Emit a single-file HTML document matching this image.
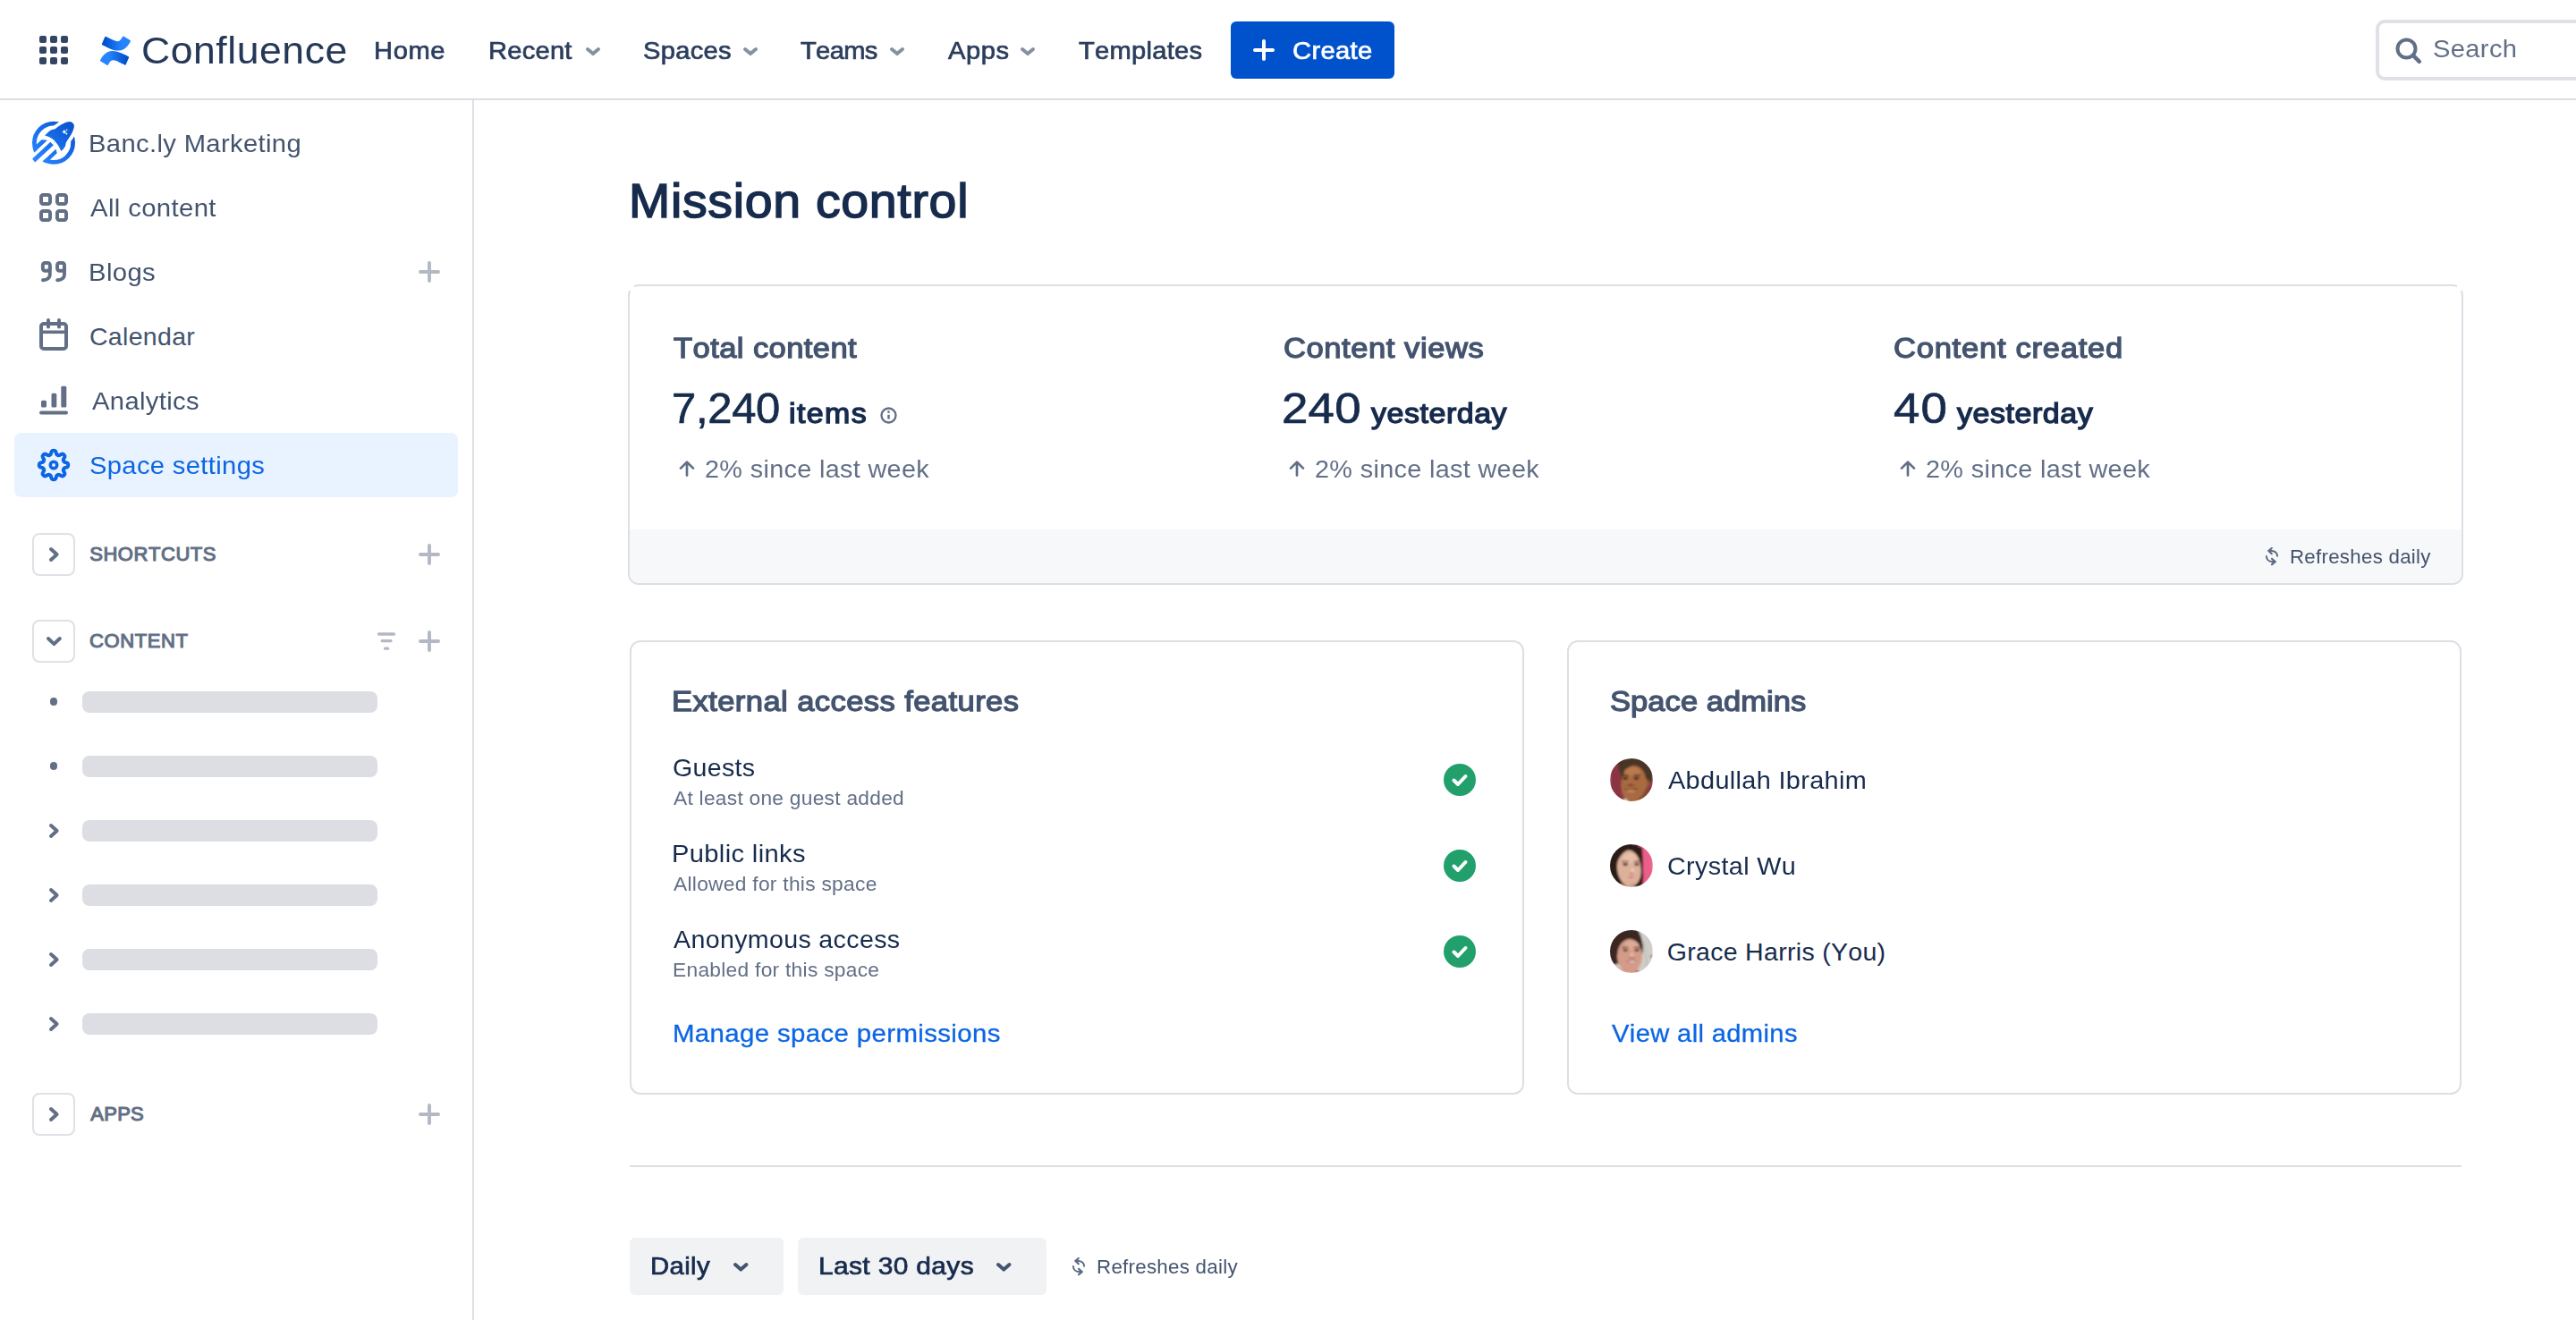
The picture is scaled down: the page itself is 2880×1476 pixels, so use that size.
<!DOCTYPE html>
<html lang="en"><head><meta charset="utf-8"><title>Mission control - Banc.ly Marketing - Confluence</title>
<style>
html,body{margin:0;padding:0;background:#fff;}
body{width:2880px;height:1476px;position:relative;overflow:hidden;font-family:"Liberation Sans", sans-serif;font-kerning:none;-webkit-font-smoothing:antialiased;}
.t{position:absolute;white-space:nowrap;margin:0;padding:0;font-weight:400;text-decoration:none;}
svg{display:block;overflow:visible}
button{font-family:inherit;border:0;padding:0;margin:0;}
</style></head><body>
<header>
<div style="position:absolute;left:0px;top:110px;width:2880px;height:2px;background:#DCDFE4;"></div>
<svg style="position:absolute;left:44px;top:40px;" width="32" height="32" viewBox="0 0 32 32"><g fill="#344563"><rect x="0" y="0" width="8" height="8" rx="2"/><rect x="12" y="0" width="8" height="8" rx="2"/><rect x="24" y="0" width="8" height="8" rx="2"/><rect x="0" y="12" width="8" height="8" rx="2"/><rect x="12" y="12" width="8" height="8" rx="2"/><rect x="24" y="12" width="8" height="8" rx="2"/><rect x="0" y="24" width="8" height="8" rx="2"/><rect x="12" y="24" width="8" height="8" rx="2"/><rect x="24" y="24" width="8" height="8" rx="2"/></g></svg>
<svg style="position:absolute;left:112px;top:39.5px;" width="34" height="33.5" viewBox="0 0 34 33"><defs><linearGradient id="cg1" x1="0" y1="0" x2="1" y2="0"><stop offset="0.1" stop-color="#0052CC"/><stop offset="0.7" stop-color="#2684FF"/></linearGradient><linearGradient id="cg2" x1="0" y1="0" x2="1" y2="0"><stop offset="0.3" stop-color="#2684FF"/><stop offset="0.9" stop-color="#0052CC"/></linearGradient></defs>
<path fill="url(#cg2)" d="M1.2 25.1c-.4.6-.7 1.2-1 1.7a1 1 0 0 0 .3 1.4l7 4.3a1 1 0 0 0 1.4-.3c.3-.5.6-1.1 1-1.7 2.8-4.6 5.6-4 10.6-1.6l6.9 3.3a1 1 0 0 0 1.4-.5l3.3-7.500a1 1 0 0 0-.5-1.300c-1.5-.7-4.4-2.1-7-3.300C15.1 14.9 6.9 15.2 1.2 25.100z"/>
<path fill="url(#cg1)" d="M32.8 7.9c.4-.6.7-1.2 1-1.7a1 1 0 0 0-.3-1.4l-7-4.3a1 1 0 0 0-1.4.3c-.3.5-.6 1.1-1 1.7-2.8 4.6-5.6 4-10.6 1.600L6.6.8a1 1 0 0 0-1.4.5L1.9 8.800a1 1 0 0 0 .5 1.300c1.5.7 4.4 2.1 7 3.3 9.5 4.7 17.7 4.4 23.4-5.500z"/></svg>
<span class="t " style="left:157.74px;top:29.80px;font-size:43px;line-height:52px;letter-spacing:0.516px;color:#253858;transform:scaleX(1.0363);transform-origin:0 0;">Confluence</span>
<span class="t " style="left:418.46px;top:40.05px;font-size:28px;line-height:34px;letter-spacing:0.579px;color:#2C3E5D;-webkit-text-stroke:0.7px #2C3E5D;transform:scaleX(1.0400);transform-origin:0 0;">Home</span>
<span class="t " style="left:545.96px;top:40.05px;font-size:28px;line-height:34px;letter-spacing:0.219px;color:#2C3E5D;-webkit-text-stroke:0.7px #2C3E5D;transform:scaleX(1.0400);transform-origin:0 0;">Recent</span>
<svg style="position:absolute;left:654.5px;top:52.5px;" width="16" height="9.5" viewBox="0 0 16 9.5"><path d="M2.0 2.0 L8.0 7.1 L14.0 2.0" fill="none" stroke="#8590A2" stroke-width="4" stroke-linecap="round" stroke-linejoin="round"/></svg>
<span class="t " style="left:718.63px;top:40.05px;font-size:28px;line-height:34px;letter-spacing:0.278px;color:#2C3E5D;-webkit-text-stroke:0.7px #2C3E5D;transform:scaleX(1.0400);transform-origin:0 0;">Spaces</span>
<svg style="position:absolute;left:830.5px;top:52.5px;" width="16" height="9.5" viewBox="0 0 16 9.5"><path d="M2.0 2.0 L8.0 7.1 L14.0 2.0" fill="none" stroke="#8590A2" stroke-width="4" stroke-linecap="round" stroke-linejoin="round"/></svg>
<span class="t " style="left:895.40px;top:40.05px;font-size:28px;line-height:34px;letter-spacing:-0.646px;color:#2C3E5D;-webkit-text-stroke:0.7px #2C3E5D;transform:scaleX(1.0400);transform-origin:0 0;">Teams</span>
<svg style="position:absolute;left:994.5px;top:52.5px;" width="16" height="9.5" viewBox="0 0 16 9.5"><path d="M2.0 2.0 L8.0 7.1 L14.0 2.0" fill="none" stroke="#8590A2" stroke-width="4" stroke-linecap="round" stroke-linejoin="round"/></svg>
<span class="t " style="left:1059.89px;top:40.05px;font-size:28px;line-height:34px;letter-spacing:0.524px;color:#2C3E5D;-webkit-text-stroke:0.7px #2C3E5D;transform:scaleX(1.0400);transform-origin:0 0;">Apps</span>
<svg style="position:absolute;left:1140.5px;top:52.5px;" width="16" height="9.5" viewBox="0 0 16 9.5"><path d="M2.0 2.0 L8.0 7.1 L14.0 2.0" fill="none" stroke="#8590A2" stroke-width="4" stroke-linecap="round" stroke-linejoin="round"/></svg>
<span class="t " style="left:1205.70px;top:40.05px;font-size:28px;line-height:34px;letter-spacing:0.248px;color:#2C3E5D;-webkit-text-stroke:0.7px #2C3E5D;transform:scaleX(1.0400);transform-origin:0 0;">Templates</span>
<button style="position:absolute;left:1376px;top:24px;width:183px;height:64px;background:#0052CC;border-radius:6px;"></button>
<svg style="position:absolute;left:1400.5px;top:44px;" width="24" height="24" viewBox="0 0 24 24"><path d="M12 2v20M2 12h20" stroke="#fff" stroke-width="4" stroke-linecap="round"/></svg>
<span class="t " style="left:1445.17px;top:40.05px;font-size:28px;line-height:34px;letter-spacing:0.340px;color:#fff;-webkit-text-stroke:0.7px #fff;transform:scaleX(1.0400);transform-origin:0 0;">Create</span>
<div style="position:absolute;left:2656px;top:22px;width:300px;height:68px;border:4px solid #DFE1E6;border-radius:10px;box-sizing:border-box;background:#fff;"></div>
<svg style="position:absolute;left:2677.5px;top:41.5px;" width="30" height="30" viewBox="0 0 30 30"><circle cx="12.5" cy="12.5" r="10" fill="none" stroke="#626F86" stroke-width="4"/><path d="M20 20l6.8 6.8" stroke="#626F86" stroke-width="4.5" stroke-linecap="round"/></svg>
<span class="t " style="left:2720.18px;top:37.10px;font-size:28.5px;line-height:35px;letter-spacing:0.342px;color:#626F86;transform:scaleX(1.0218);transform-origin:0 0;">Search</span>
</header>
<aside>
<div style="position:absolute;left:528px;top:112px;width:2px;height:1364px;background:#DCDFE4;"></div>
<svg style="position:absolute;left:36px;top:136px;" width="48" height="48" viewBox="0 0 48 48"><defs><linearGradient id="sg" gradientUnits="userSpaceOnUse" x1="6" y1="42" x2="44" y2="4"><stop offset="0" stop-color="#2684FF"/><stop offset="1" stop-color="#0A55D0"/></linearGradient><clipPath id="rc"><circle cx="24" cy="23.8" r="24"/></clipPath></defs>
<circle cx="24" cy="23.8" r="21.6" fill="none" stroke="url(#sg)" stroke-width="4.8"/>
<g clip-path="url(#rc)" fill="url(#sg)"><path d="M-14.24 43.26 L10.43 20.28 L17.27 20.73 L-10.84 46.91Z"/><path d="M-1.73 56.69 L26.38 30.51 L27.76 35.36 L1.33 59.98Z"/></g>
<path d="M-10.84 46.91 L20.55 17.67 L29.66 27.45 L-1.73 56.69Z" fill="#fff"/>
<path d="M0.15 41.58 L20.37 22.75 L23.85 26.19 L3.12 45.50Z" fill="url(#sg)"/>
<path d="M14.1 15.5C14.62 14.98 16.03 13.40 17.20 12.40C18.37 11.40 19.65 10.23 21.10 9.50C22.55 8.77 24.45 8.73 25.90 8.00C27.35 7.27 28.18 6.15 29.80 5.10C31.42 4.05 33.58 2.55 35.60 1.70C37.62 0.85 40.28 0.03 41.90 0.00C43.52 -0.03 44.48 0.82 45.30 1.50C46.12 2.18 46.63 3.02 46.80 4.10C46.97 5.18 46.87 6.22 46.30 8.00C45.73 9.78 44.77 12.30 43.40 14.80C42.03 17.30 39.15 20.98 38.10 23.00C37.05 25.02 37.67 25.60 37.10 26.90C36.53 28.20 35.52 29.80 34.70 30.80C33.88 31.80 32.62 32.55 32.20 32.90C31.88 32.22 31.02 30.12 30.30 28.80C29.58 27.48 29.03 26.45 27.90 25.00C26.77 23.55 24.95 21.40 23.50 20.10C22.05 18.80 20.77 17.97 19.20 17.20C17.63 16.43 14.95 15.78 14.10 15.50Z" fill="#fff" stroke="#fff" stroke-width="7.6" stroke-linejoin="round"/>
<path d="M14.1 15.5C14.62 14.98 16.03 13.40 17.20 12.40C18.37 11.40 19.65 10.23 21.10 9.50C22.55 8.77 24.45 8.73 25.90 8.00C27.35 7.27 28.18 6.15 29.80 5.10C31.42 4.05 33.58 2.55 35.60 1.70C37.62 0.85 40.28 0.03 41.90 0.00C43.52 -0.03 44.48 0.82 45.30 1.50C46.12 2.18 46.63 3.02 46.80 4.10C46.97 5.18 46.87 6.22 46.30 8.00C45.73 9.78 44.77 12.30 43.40 14.80C42.03 17.30 39.15 20.98 38.10 23.00C37.05 25.02 37.67 25.60 37.10 26.90C36.53 28.20 35.52 29.80 34.70 30.80C33.88 31.80 32.62 32.55 32.20 32.90C31.88 32.22 31.02 30.12 30.30 28.80C29.58 27.48 29.03 26.45 27.90 25.00C26.77 23.55 24.95 21.40 23.50 20.10C22.05 18.80 20.77 17.97 19.20 17.20C17.63 16.43 14.95 15.78 14.10 15.50Z" fill="url(#sg)"/>
<path d="M35.9 8.7l.9 1.8 1.8.9-1.8.9-.9 1.8-.9-1.8-1.8-.9 1.8-.9zM38.8 7.900l.4.9.9.4-.9.4-.4.9-.4-.900-.9-.4.9-.4zM38.3 12.100l.5 1 1 .5-1 .5-.5 1-.5-1-1-.5 1-.5z" fill="#fff"/></svg>
<span class="t " style="left:99.20px;top:143.20px;font-size:28.5px;line-height:35px;letter-spacing:0.342px;color:#44546F;transform:scaleX(1.0245);transform-origin:0 0;">Banc.ly Marketing</span>
<span class="t " style="left:100.74px;top:214.50px;font-size:28.5px;line-height:35px;letter-spacing:0.342px;color:#44546F;transform:scaleX(1.0291);transform-origin:0 0;">All content</span>
<span class="t " style="left:99.10px;top:287.00px;font-size:28.5px;line-height:35px;letter-spacing:0.342px;color:#44546F;transform:scaleX(1.0275);transform-origin:0 0;">Blogs</span>
<span class="t " style="left:99.95px;top:358.80px;font-size:28.5px;line-height:35px;letter-spacing:0.323px;color:#44546F;">Calendar</span>
<span class="t " style="left:103.04px;top:430.70px;font-size:28.5px;line-height:35px;letter-spacing:0.342px;color:#44546F;transform:scaleX(1.0243);transform-origin:0 0;">Analytics</span>
<svg style="position:absolute;left:44px;top:216px;" width="32" height="32" viewBox="0 0 32 32"><g fill="none" stroke="#626F86" stroke-width="4"><rect x="2" y="2" width="10" height="10" rx="2.2"/><rect x="20" y="2" width="10" height="10" rx="2.2"/><rect x="2" y="20" width="10" height="10" rx="2.2"/><rect x="20" y="20" width="10" height="10" rx="2.2"/></g></svg>
<svg style="position:absolute;left:44px;top:290px;" width="32" height="28" viewBox="0 0 32 28"><g fill="none" stroke="#626F86" stroke-width="3.9" stroke-linecap="round" stroke-linejoin="round"><rect x="3.85" y="3.96" width="7.95" height="8.74" rx="2.4"/><path d="M11.8 9V16.5C11.8 21 8.5 23.2 4 23.3"/><g transform="translate(16.2 0)"><rect x="3.85" y="3.96" width="7.95" height="8.74" rx="2.4"/><path d="M11.8 9V16.5C11.8 21 8.5 23.2 4 23.3"/></g></g></svg>
<svg style="position:absolute;left:44px;top:356px;" width="32" height="36" viewBox="0 0 32 36"><g fill="none" stroke="#626F86" stroke-width="4" stroke-linecap="round"><rect x="2" y="6" width="28" height="28" rx="3"/><path d="M3 15.3h26" stroke-width="3.6" stroke-linecap="butt"/><path d="M10 2v7.5M22 2v7.5"/></g></svg>
<svg style="position:absolute;left:44px;top:430px;" width="32" height="34" viewBox="0 0 32 34"><g fill="#626F86"><rect x="0" y="29.5" width="32" height="4" rx="2"/><rect x="2" y="17.8" width="6" height="7.7" rx="1.5"/><rect x="13.5" y="9.8" width="5.8" height="15.7" rx="1.5"/><rect x="24.3" y="1.7" width="6" height="23.8" rx="1.5"/></g></svg>
<svg style="position:absolute;left:468.0px;top:292.0px;" width="24" height="24" viewBox="0 0 24 24"><path d="M12.0 1.95v20.1M1.95 12.0h20.1" stroke="#B3B9C4" stroke-width="3.9" stroke-linecap="round"/></svg>
<div style="position:absolute;left:16px;top:484px;width:496px;height:72px;background:#E9F2FF;border-radius:8px;"></div>
<svg style="position:absolute;left:42px;top:502px;" width="36" height="36" viewBox="0 0 36 36"><g fill="none" stroke="#0C66E4" stroke-linejoin="round"><path d="M18.00 1.80 L18.85 1.87 L19.66 2.16 L20.37 3.01 L20.85 4.59 L21.25 5.88 L21.75 6.47 L22.30 6.79 L22.89 7.03 L23.50 7.20 L24.27 7.13 L25.46 6.51 L26.92 5.72 L28.02 5.62 L28.81 6.00 L29.46 6.54 L30.00 7.19 L30.38 7.98 L30.28 9.08 L29.49 10.54 L28.87 11.73 L28.80 12.50 L28.97 13.11 L29.21 13.70 L29.53 14.25 L30.12 14.75 L31.41 15.15 L32.99 15.63 L33.84 16.34 L34.13 17.15 L34.20 18.00 L34.13 18.85 L33.84 19.66 L32.99 20.37 L31.41 20.85 L30.12 21.25 L29.53 21.75 L29.21 22.30 L28.97 22.89 L28.80 23.50 L28.87 24.27 L29.49 25.46 L30.28 26.92 L30.38 28.02 L30.00 28.81 L29.46 29.46 L28.81 30.00 L28.02 30.38 L26.92 30.28 L25.46 29.49 L24.27 28.87 L23.50 28.80 L22.89 28.97 L22.30 29.21 L21.75 29.53 L21.25 30.12 L20.85 31.41 L20.37 32.99 L19.66 33.84 L18.85 34.13 L18.00 34.20 L17.15 34.13 L16.34 33.84 L15.63 32.99 L15.15 31.41 L14.75 30.12 L14.25 29.53 L13.70 29.21 L13.11 28.97 L12.50 28.80 L11.73 28.87 L10.54 29.49 L9.08 30.28 L7.98 30.38 L7.19 30.00 L6.54 29.46 L6.00 28.81 L5.62 28.02 L5.72 26.92 L6.51 25.46 L7.13 24.27 L7.20 23.50 L7.03 22.89 L6.79 22.30 L6.47 21.75 L5.88 21.25 L4.59 20.85 L3.01 20.37 L2.16 19.66 L1.87 18.85 L1.80 18.00 L1.87 17.15 L2.16 16.34 L3.01 15.63 L4.59 15.15 L5.88 14.75 L6.47 14.25 L6.79 13.70 L7.03 13.11 L7.20 12.50 L7.13 11.73 L6.51 10.54 L5.72 9.08 L5.62 7.98 L6.00 7.19 L6.54 6.54 L7.19 6.00 L7.98 5.62 L9.08 5.72 L10.54 6.51 L11.73 7.13 L12.50 7.20 L13.11 7.03 L13.70 6.79 L14.25 6.47 L14.75 5.88 L15.15 4.59 L15.63 3.01 L16.34 2.16 L17.15 1.87Z" stroke-width="4"/><circle cx="18" cy="18" r="3.7" stroke-width="3.6"/></g></svg>
<span class="t " style="left:100.08px;top:502.70px;font-size:28.5px;line-height:35px;letter-spacing:0.342px;color:#0C66E4;transform:scaleX(1.0229);transform-origin:0 0;">Space settings</span>
<div style="position:absolute;left:36px;top:596px;width:48px;height:48px;border:2px solid #DFE1E6;border-radius:8px;box-sizing:border-box;background:#fff;"></div><svg style="position:absolute;left:55.3px;top:612px;" width="11" height="16" viewBox="0 0 11 16"><path d="M2.0 2.0 L8.6 8.0 L2.0 14.0" fill="none" stroke="#626F86" stroke-width="4" stroke-linecap="round" stroke-linejoin="round"/></svg>
<span class="t " style="left:100.15px;top:606.45px;font-size:22px;line-height:27px;letter-spacing:0.565px;color:#626F86;-webkit-text-stroke:1.1px #626F86;">SHORTCUTS</span>
<svg style="position:absolute;left:468.0px;top:608.0px;" width="24" height="24" viewBox="0 0 24 24"><path d="M12.0 1.95v20.1M1.95 12.0h20.1" stroke="#B3B9C4" stroke-width="3.9" stroke-linecap="round"/></svg>
<div style="position:absolute;left:36px;top:692.5px;width:48px;height:48px;border:2px solid #DFE1E6;border-radius:8px;box-sizing:border-box;background:#fff;"></div><svg style="position:absolute;left:51.6px;top:712.0px;" width="16.8" height="10.5" viewBox="0 0 16.8 10.5"><path d="M2.0 2.0 L8.4 8.1 L14.8 2.0" fill="none" stroke="#626F86" stroke-width="4" stroke-linecap="round" stroke-linejoin="round"/></svg>
<span class="t " style="left:100.03px;top:702.65px;font-size:22px;line-height:27px;letter-spacing:0.599px;color:#626F86;-webkit-text-stroke:1.1px #626F86;">CONTENT</span>
<svg style="position:absolute;left:468.0px;top:704.5px;" width="24" height="24" viewBox="0 0 24 24"><path d="M12.0 1.95v20.1M1.95 12.0h20.1" stroke="#B3B9C4" stroke-width="3.9" stroke-linecap="round"/></svg>
<svg style="position:absolute;left:421.8px;top:706.5px;" width="20" height="20" viewBox="0 0 20 20"><path d="M1.5 2h17M5.2 9.7h9.8M8.5 18.2h3.2" stroke="#B3B9C4" stroke-width="3.3" stroke-linecap="round"/></svg>
<div style="position:absolute;left:92px;top:772.5px;width:330px;height:24px;background:#DDDEE3;border-radius:8px;"></div>
<div style="position:absolute;left:55.8px;top:780.3px;width:8.4px;height:8.4px;background:#626F86;border-radius:50%;"></div>
<div style="position:absolute;left:92px;top:844.5px;width:330px;height:24px;background:#DDDEE3;border-radius:8px;"></div>
<div style="position:absolute;left:55.8px;top:852.3px;width:8.4px;height:8.4px;background:#626F86;border-radius:50%;"></div>
<div style="position:absolute;left:92px;top:916.5px;width:330px;height:24px;background:#DDDEE3;border-radius:8px;"></div>
<svg style="position:absolute;left:55.3px;top:920.5px;" width="11" height="16" viewBox="0 0 11 16"><path d="M2.0 2.0 L8.6 8.0 L2.0 14.0" fill="none" stroke="#626F86" stroke-width="4" stroke-linecap="round" stroke-linejoin="round"/></svg>
<div style="position:absolute;left:92px;top:988.5px;width:330px;height:24px;background:#DDDEE3;border-radius:8px;"></div>
<svg style="position:absolute;left:55.3px;top:992.5px;" width="11" height="16" viewBox="0 0 11 16"><path d="M2.0 2.0 L8.6 8.0 L2.0 14.0" fill="none" stroke="#626F86" stroke-width="4" stroke-linecap="round" stroke-linejoin="round"/></svg>
<div style="position:absolute;left:92px;top:1060.5px;width:330px;height:24px;background:#DDDEE3;border-radius:8px;"></div>
<svg style="position:absolute;left:55.3px;top:1064.5px;" width="11" height="16" viewBox="0 0 11 16"><path d="M2.0 2.0 L8.6 8.0 L2.0 14.0" fill="none" stroke="#626F86" stroke-width="4" stroke-linecap="round" stroke-linejoin="round"/></svg>
<div style="position:absolute;left:92px;top:1132.5px;width:330px;height:24px;background:#DDDEE3;border-radius:8px;"></div>
<svg style="position:absolute;left:55.3px;top:1136.5px;" width="11" height="16" viewBox="0 0 11 16"><path d="M2.0 2.0 L8.6 8.0 L2.0 14.0" fill="none" stroke="#626F86" stroke-width="4" stroke-linecap="round" stroke-linejoin="round"/></svg>
<div style="position:absolute;left:36px;top:1221.5px;width:48px;height:48px;border:2px solid #DFE1E6;border-radius:8px;box-sizing:border-box;background:#fff;"></div><svg style="position:absolute;left:55.3px;top:1237.5px;" width="11" height="16" viewBox="0 0 11 16"><path d="M2.0 2.0 L8.6 8.0 L2.0 14.0" fill="none" stroke="#626F86" stroke-width="4" stroke-linecap="round" stroke-linejoin="round"/></svg>
<span class="t " style="left:101.31px;top:1231.65px;font-size:22px;line-height:27px;letter-spacing:0.252px;color:#626F86;-webkit-text-stroke:1.1px #626F86;">APPS</span>
<svg style="position:absolute;left:468.0px;top:1233.5px;" width="24" height="24" viewBox="0 0 24 24"><path d="M12.0 1.95v20.1M1.95 12.0h20.1" stroke="#B3B9C4" stroke-width="3.9" stroke-linecap="round"/></svg>
</aside>
<main>
<h1 class="t " style="left:703.00px;top:191.55px;font-size:54.5px;line-height:66px;letter-spacing:0.654px;color:#172B4D;-webkit-text-stroke:1.5px #172B4D;transform:scaleX(1.0184);transform-origin:0 0;">Mission control</h1>
<section style="position:absolute;left:702px;top:318px;width:2052px;height:336px;border:2px solid #DCDFE4;border-radius:12px;box-sizing:border-box;background:#fff;overflow:hidden;"><div style="position:absolute;left:0px;top:272px;width:2048px;height:60px;background:#F7F8F9;"></div></section>
<div style="position:absolute;left:701px;top:317px;width:8px;height:8px;background:#fff;"></div>
<div style="position:absolute;left:2747px;top:317px;width:8px;height:8px;background:#fff;"></div>
<h2 class="t " style="left:753.27px;top:369.65px;font-size:32px;line-height:39px;letter-spacing:0.380px;color:#44546F;-webkit-text-stroke:1.3px #44546F;transform:scaleX(1.0800);transform-origin:0 0;">Total content</h2>
<h2 class="t " style="left:1434.69px;top:369.65px;font-size:32px;line-height:39px;letter-spacing:0.512px;color:#44546F;-webkit-text-stroke:1.3px #44546F;transform:scaleX(1.0800);transform-origin:0 0;">Content views</h2>
<h2 class="t " style="left:2117.09px;top:369.65px;font-size:32px;line-height:39px;letter-spacing:0.685px;color:#44546F;-webkit-text-stroke:1.3px #44546F;transform:scaleX(1.0800);transform-origin:0 0;">Content created</h2>
<span class="t " style="left:751.34px;top:428.35px;font-size:48px;line-height:58px;letter-spacing:-0.293px;color:#172B4D;-webkit-text-stroke:0.7px #172B4D;transform:scaleX(1.0200);transform-origin:0 0;">7,240</span>
<span class="t " style="left:881.63px;top:443.00px;font-size:32px;line-height:39px;letter-spacing:1.334px;color:#172B4D;-webkit-text-stroke:1.4px #172B4D;transform:scaleX(1.0600);transform-origin:0 0;">items</span>
<span class="t " style="left:1433.49px;top:428.35px;font-size:48px;line-height:58px;letter-spacing:0.192px;color:#172B4D;-webkit-text-stroke:0.7px #172B4D;transform:scaleX(1.1000);transform-origin:0 0;">240</span>
<span class="t " style="left:1532.92px;top:443.00px;font-size:32px;line-height:39px;letter-spacing:0.530px;color:#172B4D;-webkit-text-stroke:1.4px #172B4D;transform:scaleX(1.0600);transform-origin:0 0;">yesterday</span>
<span class="t " style="left:2117.34px;top:428.35px;font-size:48px;line-height:58px;letter-spacing:0.950px;color:#172B4D;-webkit-text-stroke:0.7px #172B4D;transform:scaleX(1.1000);transform-origin:0 0;">40</span>
<span class="t " style="left:2187.92px;top:443.00px;font-size:32px;line-height:39px;letter-spacing:0.541px;color:#172B4D;-webkit-text-stroke:1.4px #172B4D;transform:scaleX(1.0600);transform-origin:0 0;">yesterday</span>
<svg style="position:absolute;left:984.2px;top:454.7px;" width="19" height="19" viewBox="0 0 19 19"><circle cx="9.5" cy="9.5" r="8" fill="none" stroke="#626F86" stroke-width="2.3"/><path d="M9.5 8.8v4.8" stroke="#626F86" stroke-width="2.5"/><circle cx="9.5" cy="5.6" r="1.4" fill="#626F86"/></svg>
<svg style="position:absolute;left:758.9px;top:515px;" width="18" height="18" viewBox="0 0 18 18"><path d="M9 16.6V1.8M2 8.6l7-7 7 7" fill="none" stroke="#626F86" stroke-width="2.7" stroke-linecap="round" stroke-linejoin="round"/></svg>
<span class="t " style="left:787.95px;top:506.70px;font-size:28.5px;line-height:35px;letter-spacing:0.342px;color:#626F86;transform:scaleX(1.0102);transform-origin:0 0;">2% since last week</span>
<svg style="position:absolute;left:1441.3px;top:515px;" width="18" height="18" viewBox="0 0 18 18"><path d="M9 16.6V1.8M2 8.6l7-7 7 7" fill="none" stroke="#626F86" stroke-width="2.7" stroke-linecap="round" stroke-linejoin="round"/></svg>
<span class="t " style="left:1470.35px;top:506.70px;font-size:28.5px;line-height:35px;letter-spacing:0.342px;color:#626F86;transform:scaleX(1.0102);transform-origin:0 0;">2% since last week</span>
<svg style="position:absolute;left:2123.7px;top:515px;" width="18" height="18" viewBox="0 0 18 18"><path d="M9 16.6V1.8M2 8.6l7-7 7 7" fill="none" stroke="#626F86" stroke-width="2.7" stroke-linecap="round" stroke-linejoin="round"/></svg>
<span class="t " style="left:2152.75px;top:506.70px;font-size:28.5px;line-height:35px;letter-spacing:0.342px;color:#626F86;transform:scaleX(1.0102);transform-origin:0 0;">2% since last week</span>
<svg style="position:absolute;left:2531.8px;top:611.2px;" width="16" height="22" viewBox="0 0 16 22"><g stroke="#5E6C84" stroke-width="2" stroke-linecap="round" stroke-linejoin="round" fill="none"><path d="M14.06 10.7C14.06 7.2 11.2 4.94 7.6 4.94L4.6 4.94"/><path d="M7.8 2L4.4 4.94L7.8 8.2" stroke-width="2.2"/><path d="M1.94 11C1.94 14.6 4.8 17.06 8.4 17.06L11.4 17.06"/><path d="M8.05 13.8L11.7 17.06L8.05 20.2" stroke-width="2.2"/></g></svg>
<span class="t " style="left:2560.37px;top:608.80px;font-size:22.3px;line-height:27px;letter-spacing:0.268px;color:#44546F;transform:scaleX(1.0002);transform-origin:0 0;">Refreshes daily</span>
<section style="position:absolute;left:704px;top:716px;width:1000px;height:508px;border:2px solid #DCDFE4;border-radius:12px;box-sizing:border-box;background:#fff;"></section>
<section style="position:absolute;left:1752px;top:716px;width:1000px;height:508px;border:2px solid #DCDFE4;border-radius:12px;box-sizing:border-box;background:#fff;"></section>
<h2 class="t " style="left:751.21px;top:765.05px;font-size:32px;line-height:39px;letter-spacing:0.385px;color:#44546F;-webkit-text-stroke:1.3px #44546F;transform:scaleX(1.0800);transform-origin:0 0;">External access features</h2>
<h2 class="t " style="left:1800.18px;top:765.05px;font-size:32px;line-height:39px;letter-spacing:0.026px;color:#44546F;-webkit-text-stroke:1.3px #44546F;transform:scaleX(1.0800);transform-origin:0 0;">Space admins</h2>
<span class="t " style="left:751.97px;top:840.80px;font-size:28.5px;line-height:35px;letter-spacing:0.342px;color:#172B4D;transform:scaleX(1.0007);transform-origin:0 0;">Guests</span>
<span class="t " style="left:753.36px;top:879.10px;font-size:22.3px;line-height:27px;letter-spacing:0.268px;color:#626F86;transform:scaleX(1.0191);transform-origin:0 0;">At least one guest added</span>
<svg style="position:absolute;left:1614px;top:853.7px;" width="36" height="36" viewBox="0 0 36 36"><circle cx="18" cy="18" r="18" fill="#22A06B"/><path d="M11.5 18.5l4.5 4.5 8.5-9" fill="none" stroke="#fff" stroke-width="4" stroke-linecap="round" stroke-linejoin="round"/></svg>
<span class="t " style="left:751.01px;top:936.80px;font-size:28.5px;line-height:35px;letter-spacing:0.342px;color:#172B4D;transform:scaleX(1.0220);transform-origin:0 0;">Public links</span>
<span class="t " style="left:753.36px;top:975.10px;font-size:22.3px;line-height:27px;letter-spacing:0.268px;color:#626F86;transform:scaleX(1.0217);transform-origin:0 0;">Allowed for this space</span>
<svg style="position:absolute;left:1614px;top:949.7px;" width="36" height="36" viewBox="0 0 36 36"><circle cx="18" cy="18" r="18" fill="#22A06B"/><path d="M11.5 18.5l4.5 4.5 8.5-9" fill="none" stroke="#fff" stroke-width="4" stroke-linecap="round" stroke-linejoin="round"/></svg>
<span class="t " style="left:753.34px;top:1032.80px;font-size:28.5px;line-height:35px;letter-spacing:0.342px;color:#172B4D;transform:scaleX(1.0033);transform-origin:0 0;">Anonymous access</span>
<span class="t " style="left:751.53px;top:1071.10px;font-size:22.3px;line-height:27px;letter-spacing:0.268px;color:#626F86;transform:scaleX(1.0208);transform-origin:0 0;">Enabled for this space</span>
<svg style="position:absolute;left:1614px;top:1045.7px;" width="36" height="36" viewBox="0 0 36 36"><circle cx="18" cy="18" r="18" fill="#22A06B"/><path d="M11.5 18.5l4.5 4.5 8.5-9" fill="none" stroke="#fff" stroke-width="4" stroke-linecap="round" stroke-linejoin="round"/></svg>
<a class="t " style="left:751.74px;top:1138.35px;font-size:28.5px;line-height:35px;letter-spacing:0.342px;color:#0C66E4;-webkit-text-stroke:0.3px #0C66E4;transform:scaleX(1.0327);transform-origin:0 0;">Manage space permissions</a>
<a class="t " style="left:1802.02px;top:1138.35px;font-size:28.5px;line-height:35px;letter-spacing:0.342px;color:#0C66E4;-webkit-text-stroke:0.3px #0C66E4;transform:scaleX(1.0232);transform-origin:0 0;">View all admins</a>
<svg style="position:absolute;left:1800px;top:848px;" width="48" height="48" viewBox="0 0 48 48"><defs><clipPath id="av0"><circle cx="24" cy="24" r="24"/></clipPath><filter id="bl0"><feGaussianBlur stdDeviation="0.8"/></filter></defs><g clip-path="url(#av0)"><g filter="url(#bl0)"><rect width="48" height="48" fill="#8C3642"/>
<ellipse cx="29.5" cy="18" rx="17.5" ry="18" fill="#4A3528"/>
<ellipse cx="42.5" cy="27.5" rx="2.6" ry="4.6" fill="#8E5436"/>
<ellipse cx="27" cy="30" rx="14.5" ry="22" fill="#A96B43"/>
<ellipse cx="25" cy="15" rx="9" ry="5" fill="#B87A4D"/>
<path d="M11 18Q13 7 21 7Q30 6 36 10.5Q39.5 14 39.5 21L47 28L49 8L30 -3L8 3Z" fill="#4A3528"/>
<path d="M13.5 19.5Q17 18 21 19.5M26 19.5Q30 18 34 19.5" stroke="#4a2c1c" stroke-width="1.3" fill="none"/>
<ellipse cx="17.2" cy="22.5" rx="2.8" ry="1.4" fill="#3B241A"/><ellipse cx="29.5" cy="22.5" rx="2.8" ry="1.4" fill="#3B241A"/>
<ellipse cx="23.2" cy="30" rx="3.8" ry="1.3" fill="#7A452B"/>
<path d="M16.4 34Q23 36 30.8 33.8" stroke="#7A452B" stroke-width="1.5" fill="none"/>
<ellipse cx="23.5" cy="36.6" rx="4.8" ry="1.6" fill="#C48756"/>
<path d="M30 46Q38 42 40 33L44 36L40 48Z" fill="#7f4a2e"/>
<path d="M14 48L17 44.5L20.5 48Z" fill="#D9D4CE"/></g></g></svg>
<span class="t " style="left:1865.14px;top:854.60px;font-size:28.5px;line-height:35px;letter-spacing:0.342px;color:#172B4D;transform:scaleX(1.0126);transform-origin:0 0;">Abdullah Ibrahim</span>
<svg style="position:absolute;left:1800px;top:944px;" width="48" height="48" viewBox="0 0 48 48"><defs><clipPath id="av1"><circle cx="24" cy="24" r="24"/></clipPath><filter id="bl1"><feGaussianBlur stdDeviation="0.8"/></filter></defs><g clip-path="url(#av1)"><g filter="url(#bl1)"><rect width="48" height="48" fill="#EC5F88"/>
<path d="M31 0Q37 16 36.5 30Q36 40 32 48L-2 48L-2 -2Z" fill="#2A1A18"/>
<ellipse cx="21.5" cy="27" rx="13.5" ry="20.5" fill="#DDB09A" transform="rotate(-6 21.5 27)"/>
<ellipse cx="22" cy="16" rx="8" ry="6" fill="#E6BEA9"/>
<path d="M21.5 6Q14 8 9 18Q6 24 5.3 29L-2 30L-2 -2L24 -2Z" fill="#2A1A18"/>
<path d="M21.5 6Q29 8 32.5 13.5Q34 17 33.8 21L37 24L36 4L26 0Z" fill="#2A1A18"/>
<path d="M33.5 19Q35.5 30 34.5 38Q33.5 44 31 48L36 48Q38 38 37 28Q36.5 22 35.5 16Z" fill="#2A1A18"/>
<path d="M13 19.6Q17 18.2 21 19.8M26.5 19.8Q30 18.4 33 19.6" stroke="#5a3a30" stroke-width="1.1" fill="none"/>
<ellipse cx="17.2" cy="22.5" rx="2.9" ry="1.4" fill="#2f1d19"/><ellipse cx="30" cy="22.5" rx="2.7" ry="1.3" fill="#2f1d19"/>
<ellipse cx="25.3" cy="29.5" rx="1.8" ry="2.6" fill="#EFCDBB"/>
<ellipse cx="24.2" cy="32.6" rx="2.6" ry="1" fill="#B98470"/>
<path d="M19.8 36.2Q23.4 35.4 27 36.2Q23.6 39.4 19.8 36.2Z" fill="#D0707F"/>
<path d="M12 44Q20 49 27 44L27 48L12 48Z" fill="#C08F78"/></g></g></svg>
<span class="t " style="left:1863.74px;top:950.60px;font-size:28.5px;line-height:35px;letter-spacing:0.342px;color:#172B4D;transform:scaleX(1.0088);transform-origin:0 0;">Crystal Wu</span>
<svg style="position:absolute;left:1800px;top:1040px;" width="48" height="48" viewBox="0 0 48 48"><defs><clipPath id="av2"><circle cx="24" cy="24" r="24"/></clipPath><filter id="bl2"><feGaussianBlur stdDeviation="0.8"/></filter></defs><g clip-path="url(#av2)"><g filter="url(#bl2)"><rect width="48" height="48" fill="#CFCDC8"/>
<path d="M38 12L42 48" stroke="#b9b6b0" stroke-width="1"/>
<ellipse cx="18" cy="20" rx="19" ry="20" fill="#3A2620"/>
<ellipse cx="22" cy="29" rx="14" ry="19" fill="#D49C88"/>
<ellipse cx="24" cy="17" rx="8" ry="5" fill="#DDAA96"/>
<path d="M16.4 10Q11 14 8.5 22Q7.5 30 8.3 38L-2 40L-2 -2L30 -2Q36 6 36.5 20L35.5 24Q34 14 27 10.5Q21 8.5 16.4 10Z" fill="#3A2620"/>
<path d="M13 19.8Q17 18.4 21 19.8M26 19.8Q30 18.4 34 19.8" stroke="#6a4034" stroke-width="1.2" fill="none"/>
<ellipse cx="17.2" cy="22.5" rx="2.8" ry="1.3" fill="#3d2a26"/><ellipse cx="30" cy="22.5" rx="2.8" ry="1.3" fill="#3d2a26"/>
<ellipse cx="24.5" cy="28" rx="2" ry="3" fill="#E4B6A4"/>
<ellipse cx="24.5" cy="31.2" rx="3.6" ry="1.1" fill="#B27A68"/>
<path d="M17.5 34.2Q24.5 33.2 30.5 34Q25 41.5 17.5 34.2Z" fill="#C0606A"/>
<path d="M19.6 35Q24.8 34.3 29.6 34.9Q25 38.8 19.6 35Z" fill="#D6D1C8"/>
<path d="M7 40Q14 50 30 45L30 48L7 48Z" fill="#C98F7B"/>
<circle cx="31" cy="46.5" r="1.6" fill="#B8404A"/>
<path d="M44.5 30l2.5 -3l1 4z" fill="#A5553f"/></g></g></svg>
<span class="t " style="left:1863.77px;top:1046.60px;font-size:28.5px;line-height:35px;letter-spacing:0.304px;color:#172B4D;">Grace Harris (You)</span>
<div style="position:absolute;left:704px;top:1303px;width:2048px;height:2px;background:#DCDFE4;"></div>
<button style="position:absolute;left:704px;top:1384px;width:172px;height:64px;background:#F1F2F4;border-radius:6px;"></button>
<span class="t " style="left:727.44px;top:1398.05px;font-size:28.5px;line-height:35px;letter-spacing:0.342px;color:#172B4D;-webkit-text-stroke:0.7px #172B4D;transform:scaleX(1.0302);transform-origin:0 0;">Daily</span>
<svg style="position:absolute;left:820px;top:1412px;" width="16.5" height="10" viewBox="0 0 16.5 10"><path d="M2.0 2.0 L8.25 7.6 L14.5 2.0" fill="none" stroke="#44546F" stroke-width="4" stroke-linecap="round" stroke-linejoin="round"/></svg>
<button style="position:absolute;left:892px;top:1384px;width:277.5px;height:64px;background:#F1F2F4;border-radius:6px;"></button>
<span class="t " style="left:915.30px;top:1398.05px;font-size:28.5px;line-height:35px;letter-spacing:0.342px;color:#172B4D;-webkit-text-stroke:0.7px #172B4D;transform:scaleX(1.0500);transform-origin:0 0;">Last 30 days</span>
<svg style="position:absolute;left:1114px;top:1412px;" width="16.5" height="10" viewBox="0 0 16.5 10"><path d="M2.0 2.0 L8.25 7.6 L14.5 2.0" fill="none" stroke="#44546F" stroke-width="4" stroke-linecap="round" stroke-linejoin="round"/></svg>
<svg style="position:absolute;left:1198px;top:1405px;" width="16" height="22" viewBox="0 0 16 22"><g stroke="#5E6C84" stroke-width="2" stroke-linecap="round" stroke-linejoin="round" fill="none"><path d="M14.06 10.7C14.06 7.2 11.2 4.94 7.6 4.94L4.6 4.94"/><path d="M7.8 2L4.4 4.94L7.8 8.2" stroke-width="2.2"/><path d="M1.94 11C1.94 14.6 4.8 17.06 8.4 17.06L11.4 17.06"/><path d="M8.05 13.8L11.7 17.06L8.05 20.2" stroke-width="2.2"/></g></svg>
<span class="t " style="left:1226.37px;top:1403.30px;font-size:22.3px;line-height:27px;letter-spacing:0.268px;color:#44546F;transform:scaleX(1.0009);transform-origin:0 0;">Refreshes daily</span>
</main>
</body></html>
